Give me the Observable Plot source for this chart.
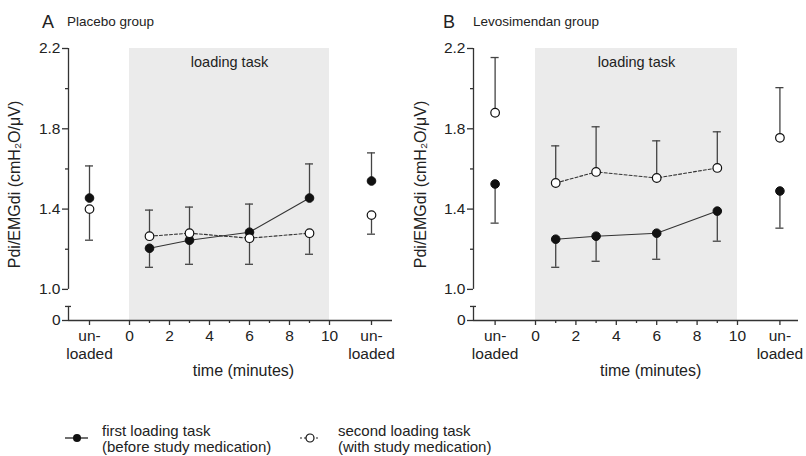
<!DOCTYPE html>
<html><head><meta charset="utf-8">
<script src="https://cdn.jsdelivr.net/npm/d3@7"></script>
<script src="https://cdn.jsdelivr.net/npm/@observablehq/plot@0.6"></script>
<style>
body{margin:0;background:#fff;font-family:"Liberation Sans",Arial,sans-serif;color:#222}
#root{position:relative;width:806px;height:456px;overflow:hidden}
.panel{position:absolute;top:0;width:403px;height:400px}
.abs{position:absolute;white-space:nowrap}
.letter{font-size:18px;line-height:18px;top:13px}
.name{font-size:13.5px;line-height:14px;top:15px}
.plot{position:absolute;top:30px;left:0}
.legtext{font-size:15px;line-height:15.5px;top:423px}
</style>
</head><body>
<div id="root">
  <div class="panel" id="pA" style="left:0">
    <span class="abs letter" style="left:42px">A</span>
    <span class="abs name" style="left:67px">Placebo group</span>
  </div>
  <div class="panel" id="pB" style="left:403px">
    <span class="abs letter" style="left:40px">B</span>
    <span class="abs name" style="left:70px">Levosimendan group</span>
  </div>
  <svg class="abs" style="left:60px;top:430px" width="34" height="16">
    <line x1="5" x2="28" y1="8" y2="8" stroke="#222" stroke-width="1.3"/>
    <circle cx="17" cy="8" r="4" fill="#111"/>
  </svg>
  <div class="abs legtext" style="left:102px">first loading task<br>(before study medication)</div>
  <svg class="abs" style="left:296px;top:430px" width="30" height="16">
    <line x1="4" x2="24" y1="8" y2="8" stroke="#222" stroke-width="1.1" stroke-dasharray="2,2"/>
    <circle cx="14" cy="8" r="4" fill="#fff" stroke="#111" stroke-width="1.2"/>
  </svg>
  <div class="abs legtext" style="left:338px">second loading task<br>(with study medication)</div>
</div>
<script>
// ---- data ----
const times = [1, 3, 6, 9];
const unloadedX = [-2, 12.1];
const xTicks = [0, 2, 4, 6, 8, 10];
const xMinorTicks = [1, 3, 5, 7, 9];
const yTicks = [1.0, 1.4, 1.8, 2.2];
const yMinorTicks = [1.2, 1.6, 2.0];
const loadingTask = [0, 10];

// Placebo group
const placeboFirst = [1.205, 1.245, 1.285, 1.455];
const placeboFirstErr = [1.11, 1.125, 1.425, 1.625];
const placeboFirstUnloaded = [1.455, 1.54];
const placeboFirstUnloadedErr = [1.615, 1.68];
const placeboSecond = [1.265, 1.28, 1.255, 1.28];
const placeboSecondErr = [1.395, 1.41, 1.125, 1.175];
const placeboSecondUnloaded = [1.40, 1.37];
const placeboSecondUnloadedErr = [1.245, 1.275];

// Levosimendan group
const levoFirst = [1.25, 1.265, 1.28, 1.39];
const levoFirstErr = [1.11, 1.14, 1.15, 1.24];
const levoFirstUnloaded = [1.525, 1.49];
const levoFirstUnloadedErr = [1.33, 1.305];
const levoSecond = [1.53, 1.585, 1.555, 1.605];
const levoSecondErr = [1.715, 1.81, 1.74, 1.785];
const levoSecondUnloaded = [1.88, 1.755];
const levoSecondUnloadedErr = [2.155, 2.005];

// broken-axis layout constants
const ZERO = 0.845;      // where "0" sits on the broken y axis
const BREAK_TOP = 0.915; // top of the short lower axis segment
const YMAX = 2.2;

function pts(vals, errs, xs) { return vals.map((v, i) => ({x: xs[i], y: v, e: errs[i]})); }

function panel(cfg) {
  const f = pts(cfg.first, cfg.firstErr, times);
  const fu = pts(cfg.firstU, cfg.firstUErr, unloadedX);
  const s = pts(cfg.second, cfg.secondErr, times);
  const su = pts(cfg.secondU, cfg.secondUErr, unloadedX);
  const filled = [...f, ...fu], hollow = [...s, ...su], all = [...filled, ...hollow];
  const [x0, x1] = cfg.xDomain;
  const ax = {stroke: "#333", strokeWidth: 1.3};
  return Plot.plot({
    width: 403, height: 360,
    marginTop: 18, marginBottom: 70, marginLeft: cfg.marginLeft, marginRight: cfg.marginRight,
    x: {domain: cfg.xDomain},
    y: {domain: [ZERO, YMAX]},
    style: {fontFamily: '"Liberation Sans", Arial, sans-serif', fontSize: "15.5px", color: "#222", background: "transparent"},
    marks: [
      Plot.rect([{a: loadingTask[0], b: loadingTask[1]}], {x1: "a", x2: "b", y1: ZERO, y2: YMAX, fill: "#ebebeb"}),
      Plot.text(["loading task"], {x: (loadingTask[0] + loadingTask[1]) / 2, y: 2.13, fontSize: 14.5, fill: "#222"}),
      Plot.ruleX([x0], {y1: 1.0, y2: YMAX, ...ax}),
      Plot.ruleX([x0], {y1: ZERO, y2: BREAK_TOP, ...ax}),
      Plot.ruleY([BREAK_TOP], {x1: x0 - 0.15, x2: x0 + 0.15, ...ax}),
      Plot.ruleY([ZERO], {x1: x0, x2: x1, ...ax}),
      Plot.axisY({ticks: [ZERO, ...yTicks], tickFormat: d => d === ZERO ? "0" : d.toFixed(1),
        tickSize: 6, tickPadding: 2, stroke: "#333", strokeWidth: 1.3, label: null}),
      Plot.axisY({ticks: yMinorTicks, tickFormat: () => "", tickSize: 3, stroke: "#333", strokeWidth: 1.3, label: null}),
      Plot.axisX({ticks: [...unloadedX, ...xTicks],
        tickFormat: d => unloadedX.includes(d) ? "un-\nloaded" : String(d),
        tickSize: 5, tickPadding: 3, lineHeight: 1.15, stroke: "#333", strokeWidth: 1.3, label: null}),
      Plot.axisX({ticks: xMinorTicks, tickFormat: () => "", tickSize: 3, stroke: "#333", strokeWidth: 1.3, label: null}),
      Plot.text(["time (minutes)"], {x: 5.7, frameAnchor: "bottom", dy: 55, fontSize: 16, fill: "#222"}),
      Plot.text(["Pdi/EMGdi (cmH\u2082O/\u03bcV)"], {frameAnchor: "left", textAnchor: "middle", rotate: -90, dx: cfg.labelDx, fontSize: 16, fill: "#222"}),
      Plot.ruleX(all, {x: "x", y1: "y", y2: "e", stroke: "#444", strokeWidth: 1.3}),
      Plot.ruleY(all, {y: "e", x1: d => d.x - 0.2, x2: d => d.x + 0.2, stroke: "#444", strokeWidth: 1.3}),
      Plot.line(f, {x: "x", y: "y", stroke: "#333", strokeWidth: 1.1}),
      Plot.line(s, {x: "x", y: "y", stroke: "#333", strokeWidth: 1.1, strokeDasharray: "3,2"}),
      Plot.dot(filled, {x: "x", y: "y", r: 4.3, fill: "#111", stroke: "#111", strokeWidth: 1}),
      Plot.dot(hollow, {x: "x", y: "y", r: 4.3, fill: "#fff", stroke: "#111", strokeWidth: 1.2})
    ]
  });
}

const a = panel({first: placeboFirst, firstErr: placeboFirstErr, firstU: placeboFirstUnloaded, firstUErr: placeboFirstUnloadedErr,
  second: placeboSecond, secondErr: placeboSecondErr, secondU: placeboSecondUnloaded, secondUErr: placeboSecondUnloadedErr,
  xDomain: [-3.05, 13.15], marginLeft: 68, marginRight: 11, labelDx: -54});
const b = panel({first: levoFirst, firstErr: levoFirstErr, firstU: levoFirstUnloaded, firstUErr: levoFirstUnloadedErr,
  second: levoSecond, secondErr: levoSecondErr, secondU: levoSecondUnloaded, secondUErr: levoSecondUnloadedErr,
  xDomain: [-3.07, 13.02], marginLeft: 70, marginRight: 8, labelDx: -53});
a.classList.add("plot"); b.classList.add("plot");
document.getElementById("pA").appendChild(a);
document.getElementById("pB").appendChild(b);
</script>
</body></html>
